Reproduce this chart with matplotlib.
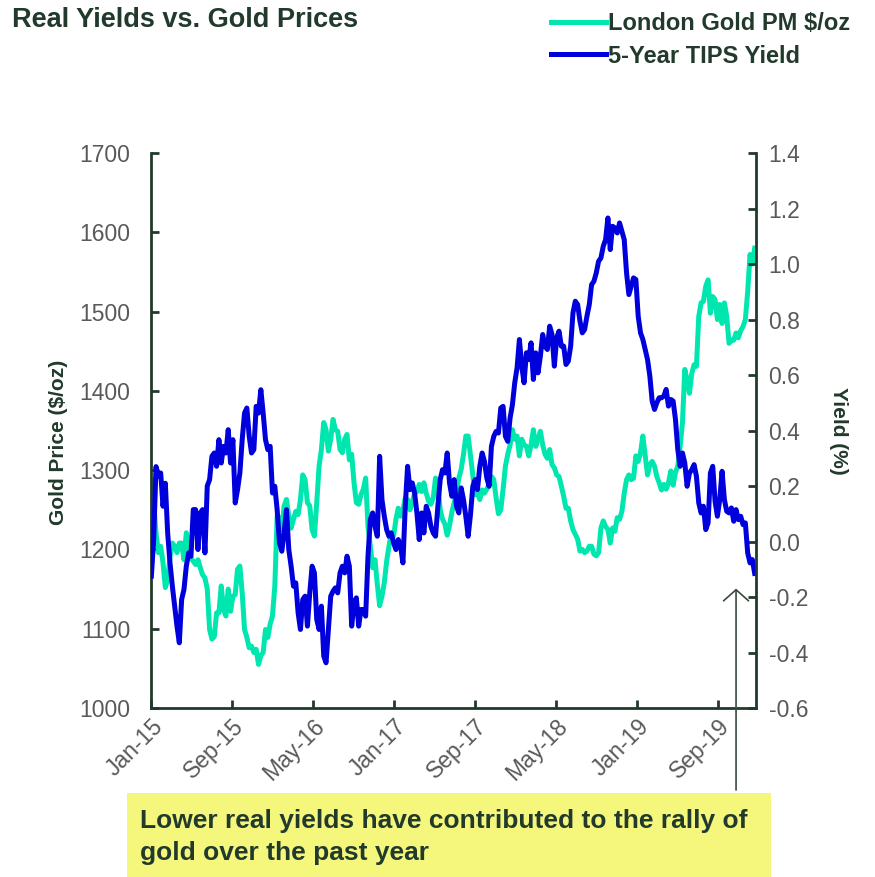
import matplotlib
matplotlib.use("Agg")
import matplotlib.pyplot as plt
import matplotlib.dates as mdates
from matplotlib.patches import Rectangle
import pandas as pd

plt.rcParams["font.family"] = ["Liberation Sans", "DejaVu Sans"]

# weekly observations, first one at the left edge of the axis
week_start = "2015-01-30"
n_weeks = 260

gold_usd_oz = [
    1288, 1259, 1221, 1196, 1204, 1183, 1152, 1162, 1191, 1208,
    1204, 1196, 1208, 1208, 1187, 1221, 1202, 1189, 1185, 1181,
    1187, 1177, 1168, 1164, 1150, 1099, 1087, 1090, 1120, 1120,
    1154, 1124, 1116, 1150, 1122, 1141, 1143, 1175, 1179, 1145,
    1099, 1089, 1076, 1078, 1070, 1074, 1055, 1066, 1070, 1099,
    1089, 1106, 1116, 1154, 1242, 1240, 1225, 1255, 1263, 1242,
    1227, 1238, 1248, 1244, 1263, 1294, 1288, 1259, 1255, 1225,
    1217, 1259, 1305, 1326, 1360, 1351, 1324, 1339, 1364, 1351,
    1349, 1326, 1322, 1339, 1345, 1313, 1320, 1284, 1259, 1257,
    1269, 1276, 1290, 1229, 1204, 1177, 1187, 1156, 1129, 1141,
    1158, 1185, 1204, 1221, 1217, 1238, 1252, 1242, 1250, 1265,
    1263, 1250, 1259, 1271, 1273, 1282, 1273, 1284, 1271, 1261,
    1257, 1265, 1290, 1280, 1250, 1238, 1232, 1218, 1230, 1247,
    1259, 1272, 1290, 1301, 1320, 1343, 1343, 1318, 1294, 1269,
    1271, 1263, 1275, 1271, 1276, 1282, 1292, 1288, 1265, 1245,
    1250, 1276, 1305, 1320, 1332, 1351, 1339, 1343, 1318, 1339,
    1332, 1330, 1318, 1332, 1351, 1330, 1339, 1349, 1332, 1320,
    1315, 1326, 1307, 1303, 1294, 1292, 1280, 1267, 1252, 1252,
    1236, 1225, 1219, 1213, 1198, 1200, 1196, 1198, 1204, 1204,
    1194, 1192, 1196, 1227, 1236, 1229, 1225, 1208, 1227, 1223,
    1240, 1238, 1248, 1271, 1288, 1294, 1288, 1290, 1318, 1311,
    1322, 1343, 1318, 1294, 1307, 1311, 1305, 1292, 1284, 1275,
    1282, 1276, 1284, 1299, 1281, 1297, 1305, 1330, 1360, 1427,
    1414, 1397, 1422, 1433, 1431, 1494, 1511, 1513, 1532, 1540,
    1498, 1519, 1515, 1490, 1509, 1485, 1511, 1494, 1460, 1464,
    1464, 1473, 1467, 1476, 1481, 1490, 1525, 1572, 1560, 1580,
]

tips_5y_yield = [
    -0.125, 0.007, 0.27, 0.235, 0.247, 0.127, 0.21, 0.031, -0.077, -0.16,
    -0.233, -0.305, -0.365, -0.209, -0.173, -0.089, -0.041, -0.053, 0.115, 0.115,
    -0.029, 0.103, 0.115, -0.041, 0.2, 0.223, 0.307, 0.319, 0.271, 0.367,
    0.283, 0.343, 0.319, 0.403, 0.283, 0.367, 0.139, 0.187, 0.247, 0.367,
    0.463, 0.481, 0.379, 0.319, 0.331, 0.487, 0.463, 0.547, 0.463, 0.367,
    0.331, 0.343, 0.175, 0.199, 0.115, -0.005, -0.035, 0.031, 0.115, -0.029,
    -0.089, -0.161, -0.149, -0.257, -0.317, -0.209, -0.197, -0.305, -0.185, -0.089,
    -0.113, -0.281, -0.317, -0.233, -0.413, -0.437, -0.317, -0.197, -0.179, -0.167,
    -0.185, -0.113, -0.089, -0.113, -0.053, -0.089, -0.305, -0.221, -0.203, -0.305,
    -0.245, -0.245, -0.269, -0.053, 0.079, 0.103, 0.055, 0.019, 0.307, 0.151,
    0.091, 0.043, 0.019, 0.031, -0.005, -0.029, 0.007, -0.017, -0.077, 0.127,
    0.271, 0.187, 0.211, 0.175, 0.103, 0.007, 0.103, 0.031, 0.127, 0.103,
    0.055, 0.031, 0.019, 0.127, 0.223, 0.259, 0.247, 0.319, 0.211, 0.163,
    0.223, 0.127, 0.103, 0.193, 0.151, 0.091, 0.019, 0.097, 0.199, 0.223,
    0.187, 0.271, 0.319, 0.289, 0.229, 0.199, 0.343, 0.379, 0.397, 0.391,
    0.481, 0.487, 0.379, 0.361, 0.445, 0.493, 0.572, 0.626, 0.728, 0.632,
    0.572, 0.68, 0.656, 0.716, 0.584, 0.68, 0.608, 0.668, 0.746, 0.704,
    0.692, 0.776, 0.746, 0.632, 0.734, 0.758, 0.704, 0.704, 0.638, 0.65,
    0.704, 0.824, 0.866, 0.854, 0.794, 0.752, 0.764, 0.812, 0.854, 0.926,
    0.938, 0.968, 1.01, 1.022, 1.064, 1.088, 1.166, 1.052, 1.136, 1.13,
    1.112, 1.148, 1.118, 1.088, 0.968, 0.89, 0.92, 0.95, 0.944, 0.812,
    0.752, 0.728, 0.692, 0.656, 0.596, 0.506, 0.476, 0.5, 0.518, 0.518,
    0.524, 0.548, 0.488, 0.512, 0.506, 0.44, 0.331, 0.271, 0.319, 0.283,
    0.199, 0.247, 0.259, 0.277, 0.235, 0.139, 0.103, 0.127, 0.043, 0.067,
    0.247, 0.271, 0.145, 0.091, 0.151, 0.253, 0.151, 0.109, 0.103, 0.121,
    0.073, 0.115, 0.079, 0.091, 0.061, 0.067, -0.041, -0.077, -0.065, -0.115,
]

x_ticks = ["2015-01-29", "2015-09-29", "2016-05-29", "2017-01-29",
           "2017-09-29", "2018-05-29", "2019-01-29", "2019-09-29"]
x_range = ["2015-01-29", "2020-01-21"]

title = "Real Yields vs. Gold Prices"
note = "Lower real yields have contributed to the rally of\ngold over the past year"

GOLD_C = "#00E6AF"
TIPS_C = "#0000DC"
DARK = "#213a2c"
GREY = "#595959"

dates = pd.date_range(week_start, periods=n_weeks, freq="7D")

fig = plt.figure(figsize=(8.75, 8.77), dpi=100)
ax = fig.add_axes([0.1726, 0.1927, 0.6914, 0.6328])
ax2 = ax.twinx()

l1, = ax.plot(dates, gold_usd_oz, color=GOLD_C, lw=3.6, solid_joinstyle="round",
              label="London Gold PM $/oz")
l2, = ax2.plot(dates, tips_5y_yield, color=TIPS_C, lw=3.6, solid_joinstyle="round",
               label="5-Year TIPS Yield")

ax.set_ylim(1000, 1700)
ax.set_yticks(range(1000, 1701, 100))
ax2.set_ylim(-0.6, 1.4)
ax2.set_yticks([-0.6, -0.4, -0.2, 0.0, 0.2, 0.4, 0.6, 0.8, 1.0, 1.2, 1.4])
ax2.yaxis.set_major_formatter(plt.FuncFormatter(lambda v, p: f"{v:.1f}"))

ax.set_xlim(pd.to_datetime(x_range[0]), pd.to_datetime(x_range[1]))
ax.set_xticks(pd.to_datetime(x_ticks))
ax.xaxis.set_major_formatter(mdates.DateFormatter("%b-%y"))

for a in (ax, ax2):
    a.spines["top"].set_visible(False)
    for s in ("left", "right", "bottom"):
        a.spines[s].set_color(DARK)
        a.spines[s].set_linewidth(2)
ax.spines["right"].set_visible(False)
ax2.spines["left"].set_visible(False)
ax2.spines["bottom"].set_visible(False)

ax.tick_params(axis="y", direction="in", length=6, width=2, color=DARK,
               labelsize=16.5, labelcolor=GREY, pad=15)
ax.tick_params(axis="x", direction="in", length=6, width=2, color=DARK,
               labelsize=16.5, labelcolor=GREY, pad=5)
ax2.tick_params(axis="y", direction="in", length=6, width=2, color=DARK,
                labelsize=16.5, labelcolor=GREY, pad=9)
for lab in ax.get_xticklabels():
    lab.set_rotation(45)
    lab.set_ha("right")
    lab.set_rotation_mode("anchor")

ax.set_ylabel("Gold Price ($/oz)", fontsize=15, fontweight="bold", color=DARK)
ax.yaxis.set_label_coords(-0.137, 0.479)
ax2.set_ylabel("Yield (%)", fontsize=15, fontweight="bold", color=DARK, rotation=270)
ax2.yaxis.set_label_coords(1.152, 0.5)

fig.text(0.014, 0.992, title, fontsize=19.5, fontweight="bold", color=DARK,
         ha="left", va="top")

leg = fig.legend([l1, l2], [l1.get_label(), l2.get_label()], loc="upper left",
                 bbox_to_anchor=(0.630, 0.986), frameon=False, fontsize=17,
                 handlelength=2.3, handletextpad=0.1, labelspacing=0.4,
                 borderpad=0, borderaxespad=0)
for t in leg.get_texts():
    t.set_fontweight("bold")
    t.set_color(DARK)

# highlighted note at the bottom
fig.patches.append(Rectangle((0.145, 0.0), 0.736, 0.096, transform=fig.transFigure,
                             facecolor="#F4F77C", edgecolor="none", zorder=1))
fig.text(0.16, 0.0455, note, fontsize=19, fontweight="bold", color=DARK,
         ha="left", va="center", linespacing=1.4, zorder=2)
ax.annotate("", xy=(0.8412, 0.332), xycoords="figure fraction",
            xytext=(0.8412, 0.096), textcoords="figure fraction",
            arrowprops=dict(arrowstyle="->,head_length=0.8,head_width=0.9",
                            color="#3a4a40", lw=1.2))

fig.savefig("out.png", dpi=100)
